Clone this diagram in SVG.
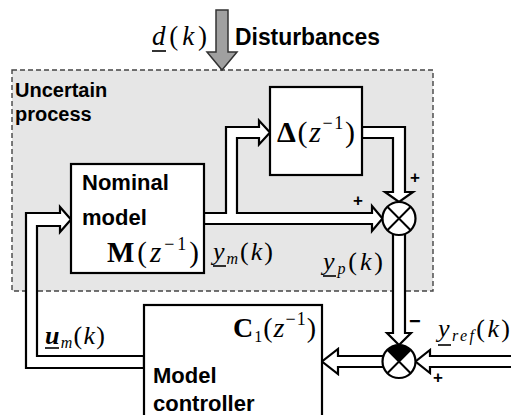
<svg xmlns="http://www.w3.org/2000/svg" width="511" height="415" viewBox="0 0 511 415">
<style>
.sans{font-family:"Liberation Sans",Arial,sans-serif;font-weight:bold;fill:#000}
.math{font-family:"Liberation Serif","Times New Roman",serif;fill:#000}
.it{font-style:italic}
.bf{font-weight:bold}
.box{fill:#fff;stroke:#000;stroke-width:2.2}
.ch{fill:#fff;stroke:#000;stroke-width:2.2;stroke-linejoin:miter}
.ul{stroke:#000;stroke-width:1.6}
</style>
<rect width="511" height="415" fill="#fff"/>
<g id="process">
<rect x="12" y="70" width="421" height="221" fill="#e6e6e6" stroke="#444" stroke-width="1.4" stroke-dasharray="5,3"/>
<text class="sans" x="15" y="97" font-size="20">Uncertain</text>
<text class="sans" x="15" y="121" font-size="20">process</text>
</g>
<g id="disturbance">
<polygon points="216,10 228,10 228,52 237,52 222,70 207,52 216,52" fill="#a0a0a0" stroke="#333" stroke-width="1.5"/>
<text class="math" x="152" y="45" font-size="27" textLength="55" lengthAdjust="spacing"><tspan class="it">d</tspan>(<tspan class="it">k</tspan>)</text>
<line class="ul" x1="152" y1="51" x2="166" y2="51"/>
<text class="sans" x="235" y="45" font-size="23" textLength="145" lengthAdjust="spacingAndGlyphs">Disturbances</text>
</g>
<g id="connectors">
<polygon class="ch" points="144,356 37,356 37,226 60,226 60,232 71,219.5 60,207 60,213 26,213 26,368 144,368"/>
<polygon class="ch" points="204,213 226,213 226,127 259,127 259,120.5 270,132.5 259,144.5 259,138 237,138 237,213 372,213 372,206 382.5,218.5 372,231 372,224 204,224"/>
<polygon class="ch" points="362,127 405,127 405,192 413,192 399,202 385,192 393,192 393,138 362,138"/>
<polygon class="ch" points="393,225 393,333 387,333 399,345 411,333 405,333 405,225"/>
<polygon class="ch" points="520,356 430,356 430,350 415.5,361.5 430,373 430,367 520,367"/>
<polygon class="ch" points="390,356 338,356 338,349 322,361.5 338,374 338,367 390,367"/>
</g>
<g id="nominal-model">
<rect class="box" x="71" y="164" width="133" height="109"/>
<text class="sans" x="82" y="190" font-size="22">Nominal</text>
<text class="sans" x="82" y="225" font-size="22">model</text>
<text class="math" x="107" y="262" font-size="29" textLength="92" lengthAdjust="spacing"><tspan class="bf">M</tspan>(<tspan class="it">z</tspan><tspan font-size="18" dy="-12">−1</tspan><tspan dy="12">)</tspan></text>
</g>
<g id="delta">
<rect class="box" x="270" y="87" width="92" height="88"/>
<text class="math" x="277" y="142" font-size="30" textLength="78" lengthAdjust="spacing"><tspan class="bf">Δ</tspan>(<tspan class="it">z</tspan><tspan font-size="18" dy="-13">−1</tspan><tspan dy="13">)</tspan></text>
</g>
<g id="sum1">
<circle cx="399" cy="218.5" r="16.5" fill="#fff" stroke="#000" stroke-width="2.2"/>
<path d="M387.33,206.83 L410.67,230.17 M410.67,206.83 L387.33,230.17" stroke="#000" stroke-width="2"/>
</g>
<g id="sum2">
<circle cx="399" cy="361.5" r="16.5" fill="#fff" stroke="#000" stroke-width="2.2"/>
<path d="M399,361.5 L387.33,349.83 A16.5,16.5 0 0,1 410.67,349.83 Z" fill="#000"/>
<path d="M387.33,349.83 L410.67,373.17 M410.67,349.83 L387.33,373.17" stroke="#000" stroke-width="2"/>
</g>
<g id="controller">
<rect class="box" x="144" y="305" width="178" height="120"/>
<text class="math" x="233" y="337" font-size="28" textLength="83" lengthAdjust="spacing"><tspan class="bf">C</tspan><tspan font-size="16" dy="5">1</tspan><tspan dy="-5">(</tspan><tspan class="it">z</tspan><tspan font-size="18" dy="-12">−1</tspan><tspan dy="12">)</tspan></text>
<text class="sans" x="153" y="383" font-size="22">Model</text>
<text class="sans" x="153" y="411" font-size="22">controller</text>
</g>
<g id="labels">
<text class="math" x="213" y="260" font-size="26" textLength="60" lengthAdjust="spacing"><tspan class="it">y</tspan><tspan class="it" font-size="16" dy="4">m</tspan><tspan dy="-4">(</tspan><tspan class="it">k</tspan>)</text>
<line class="ul" x1="213" y1="266" x2="226" y2="266"/>
<text class="math" x="323" y="270" font-size="26" textLength="60" lengthAdjust="spacing"><tspan class="it">y</tspan><tspan class="it" font-size="16" dy="4">p</tspan><tspan dy="-4">(</tspan><tspan class="it">k</tspan>)</text>
<line class="ul" x1="323" y1="276" x2="336" y2="276"/>
<text class="math" x="45" y="344" font-size="26" textLength="60" lengthAdjust="spacing"><tspan class="it bf">u</tspan><tspan class="it" font-size="16" dy="4">m</tspan><tspan dy="-4">(</tspan><tspan class="it">k</tspan>)</text>
<line class="ul" x1="45" y1="348" x2="59" y2="348"/>
<text class="math" x="438" y="337" font-size="26" textLength="72" lengthAdjust="spacing"><tspan class="it">y</tspan><tspan class="it" font-size="16" dy="4">ref</tspan><tspan dy="-4">(</tspan><tspan class="it">k</tspan>)</text>
<line class="ul" x1="438" y1="345" x2="451" y2="345"/>
<text class="sans" x="410" y="183" font-size="17">+</text>
<text class="sans" x="353" y="206" font-size="17">+</text>
<text class="sans" x="433" y="383" font-size="17">+</text>
<text class="sans" x="409" y="328" font-size="20">−</text>
</g>
</svg>
